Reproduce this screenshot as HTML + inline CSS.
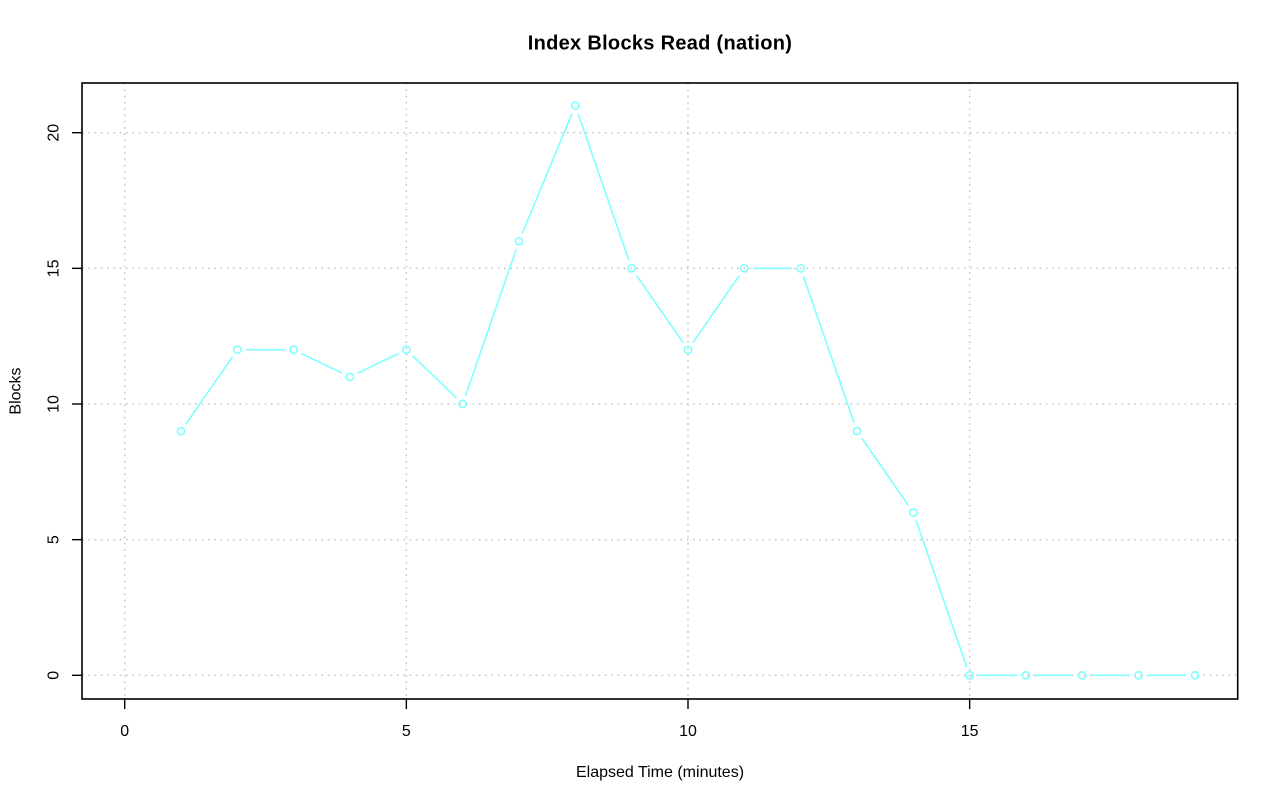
<!DOCTYPE html>
<html>
<head>
<meta charset="utf-8">
<style>
html,body{margin:0;padding:0;background:#fff;}
svg{display:block;}
text{font-family:"Liberation Sans",Arial,sans-serif;fill:#000;}
</style>
</head>
<body>
<svg width="1280" height="801" viewBox="0 0 1280 801" xmlns="http://www.w3.org/2000/svg">
<rect x="0" y="0" width="1280" height="801" fill="#fff"/>
<!-- grid -->
<g stroke="#C8C8C8" stroke-width="1.6" stroke-dasharray="1.6 4.7" fill="none">
<line x1="124.7" y1="83" x2="124.7" y2="699"/>
<line x1="406.35" y1="83" x2="406.35" y2="699"/>
<line x1="688" y1="83" x2="688" y2="699"/>
<line x1="969.65" y1="83" x2="969.65" y2="699"/>
<line x1="82" y1="675.3" x2="1238" y2="675.3"/>
<line x1="82" y1="539.65" x2="1238" y2="539.65"/>
<line x1="82" y1="404" x2="1238" y2="404"/>
<line x1="82" y1="268.35" x2="1238" y2="268.35"/>
<line x1="82" y1="132.7" x2="1238" y2="132.7"/>
</g>
<!-- series -->
<g stroke="#7FFFFF" stroke-width="1.6" fill="none">
<line x1="185.87" y1="424.14" x2="232.52" y2="356.73"/>
<line x1="245.86" y1="349.74" x2="285.19" y2="349.74"/>
<line x1="301.35" y1="353.43" x2="342.36" y2="373.18"/>
<line x1="357.68" y1="373.18" x2="398.69" y2="353.43"/>
<line x1="412.47" y1="355.64" x2="456.56" y2="398.10"/>
<line x1="465.46" y1="395.97" x2="516.23" y2="249.25"/>
<line x1="522.27" y1="233.37" x2="572.08" y2="113.42"/>
<line x1="578.12" y1="113.60" x2="628.89" y2="260.32"/>
<line x1="636.51" y1="275.34" x2="683.16" y2="342.75"/>
<line x1="692.84" y1="342.75" x2="739.49" y2="275.34"/>
<line x1="752.83" y1="268.35" x2="792.16" y2="268.35"/>
<line x1="803.44" y1="276.38" x2="854.21" y2="423.10"/>
<line x1="861.83" y1="438.12" x2="908.48" y2="505.53"/>
<line x1="916.10" y1="520.55" x2="966.87" y2="667.27"/>
<line x1="978.15" y1="675.3" x2="1017.48" y2="675.3"/>
<line x1="1034.48" y1="675.3" x2="1073.81" y2="675.3"/>
<line x1="1090.81" y1="675.3" x2="1130.14" y2="675.3"/>
<line x1="1147.14" y1="675.3" x2="1186.47" y2="675.3"/>
<circle cx="181.03" cy="431.13" r="3.6"/>
<circle cx="237.36" cy="349.74" r="3.6"/>
<circle cx="293.69" cy="349.74" r="3.6"/>
<circle cx="350.02" cy="376.87" r="3.6"/>
<circle cx="406.35" cy="349.74" r="3.6"/>
<circle cx="462.68" cy="404.0" r="3.6"/>
<circle cx="519.01" cy="241.22" r="3.6"/>
<circle cx="575.34" cy="105.57" r="3.6"/>
<circle cx="631.67" cy="268.35" r="3.6"/>
<circle cx="688.0" cy="349.74" r="3.6"/>
<circle cx="744.33" cy="268.35" r="3.6"/>
<circle cx="800.66" cy="268.35" r="3.6"/>
<circle cx="856.99" cy="431.13" r="3.6"/>
<circle cx="913.32" cy="512.52" r="3.6"/>
<circle cx="969.65" cy="675.3" r="3.6"/>
<circle cx="1025.98" cy="675.3" r="3.6"/>
<circle cx="1082.31" cy="675.3" r="3.6"/>
<circle cx="1138.64" cy="675.3" r="3.6"/>
<circle cx="1194.97" cy="675.3" r="3.6"/>
</g>
<!-- box -->
<rect x="82" y="83" width="1155.7" height="616" fill="none" stroke="#000" stroke-width="1.6"/>
<!-- ticks -->
<g stroke="#000" stroke-width="1.4">
<line x1="124.7" y1="699" x2="124.7" y2="709"/>
<line x1="406.35" y1="699" x2="406.35" y2="709"/>
<line x1="688" y1="699" x2="688" y2="709"/>
<line x1="969.65" y1="699" x2="969.65" y2="709"/>
<line x1="72" y1="675.3" x2="82" y2="675.3"/>
<line x1="72" y1="539.65" x2="82" y2="539.65"/>
<line x1="72" y1="404" x2="82" y2="404"/>
<line x1="72" y1="268.35" x2="82" y2="268.35"/>
<line x1="72" y1="132.7" x2="82" y2="132.7"/>
</g>
<!-- x tick labels -->
<g font-size="16" text-anchor="middle">
<text x="124.7" y="736">0</text>
<text x="406.35" y="736">5</text>
<text x="688" y="736">10</text>
<text x="969.65" y="736">15</text>
</g>
<!-- y tick labels -->
<g font-size="16" text-anchor="middle">
<text transform="translate(58.3,675.3) rotate(-90)">0</text>
<text transform="translate(58.3,539.65) rotate(-90)">5</text>
<text transform="translate(58.3,404) rotate(-90)">10</text>
<text transform="translate(58.3,268.35) rotate(-90)">15</text>
<text transform="translate(58.3,132.7) rotate(-90)">20</text>
</g>
<!-- axis titles -->
<text x="660" y="777" font-size="16" text-anchor="middle">Elapsed Time (minutes)</text>
<text transform="translate(20.3,391) rotate(-90)" font-size="16" text-anchor="middle">Blocks</text>
<text x="660" y="49.5" font-size="20" font-weight="bold" text-anchor="middle" letter-spacing="0.3">Index Blocks Read (nation)</text>
</svg>
</body>
</html>
